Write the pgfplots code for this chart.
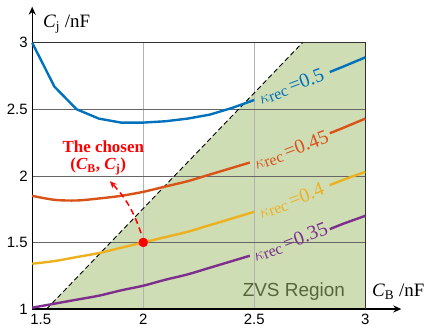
\documentclass[border=0pt]{standalone}
\usepackage{pgfplots}
\pgfplotsset{compat=1.18}
\usepackage{fontspec}
\setmainfont{Liberation Serif}
\setsansfont{Liberation Sans}
\usetikzlibrary{arrows.meta}
\definecolor{kblue}{HTML}{0072BD}
\definecolor{korange}{HTML}{D95319}
\definecolor{kyellow}{HTML}{EDB120}
\definecolor{kpurple}{HTML}{7E2F8E}
\definecolor{zvs}{HTML}{CFDDB4}
\definecolor{zvstext}{HTML}{56653A}
\newcommand{\krec}[1]{\rmfamily{\fontsize{16}{16}\selectfont$\kappa$\raisebox{-1.5bp}{rec}}\hspace{3bp}{\fontsize{20}{20}\selectfont=#1}}
\begin{document}
\begin{tikzpicture}
\begin{axis}[
  set layers,
  scale only axis,
  width=333.1bp, height=266.3bp,
  xmin=1.5, xmax=3, ymin=1, ymax=3,
  clip=false,
  axis lines=left,
  x axis line style={line width=1.4bp, -{Stealth[length=8bp,width=7bp]}, shorten >=-36bp},
  y axis line style={line width=1.4bp, -{Stealth[length=8bp,width=7bp]}, shorten >=-36bp},
  xtick={1.5,2,2.5,3},
  ytick={1,1.5,2,2.5,3},
  xticklabels={\hspace*{17bp}1.5,2,2.5,3},
  yticklabels={1,1.5,2,2.5,3},
  major tick length=0pt,
  /pgf/number format/assume math mode=true,
  tick label style={font=\sffamily\fontsize{15}{15}\selectfont},
  xticklabel style={yshift=-2bp},
  yticklabel style={xshift=-1bp},
  grid=major,
  x grid style={black!30, line width=0.7bp},
  y grid style={black!60, line width=0.7bp},
]
% ZVS region
\addplot[fill=zvs, draw=none, on layer=axis background] coordinates {(1.565,1) (2.717,3) (3,3) (3,1)} -- cycle;
% borders
\draw[black!80, line width=0.9bp] (axis cs:1.5,3) -- (axis cs:3,3) -- (axis cs:3,1);
% boundary
\addplot[black, line width=0.9bp, dash pattern=on 5bp off 3bp] coordinates {(1.565,1) (2.717,3)};
% curves
\addplot[kblue, line width=2.4bp] coordinates {(1.5,3.0)(1.6,2.67)(1.7,2.5)(1.8,2.43)(1.9,2.40)(2.0,2.40)(2.1,2.41)(2.2,2.43)(2.3,2.46)(2.4,2.51)(2.5,2.57)};
\addplot[kblue, line width=2.4bp] coordinates {(2.84,2.78)(2.9,2.82)(3.0,2.89)};
\addplot[korange, line width=2.4bp, smooth] coordinates {(1.5,1.85)(1.6,1.82)(1.7,1.815)(1.8,1.83)(1.9,1.85)(2.0,1.88)(2.1,1.92)(2.2,1.96)(2.3,2.01)(2.4,2.06)(2.48,2.10)};
\addplot[korange, line width=2.4bp] coordinates {(2.84,2.32)(2.9,2.36)(3.0,2.43)};
\addplot[kyellow, line width=2.4bp, smooth] coordinates {(1.5,1.34)(1.6,1.36)(1.7,1.39)(1.8,1.42)(1.9,1.46)(2.0,1.5)(2.1,1.54)(2.2,1.58)(2.3,1.63)(2.4,1.68)(2.5,1.73)};
\addplot[kyellow, line width=2.4bp] coordinates {(2.84,1.93)(2.9,1.97)(3.0,2.03)};
\addplot[kpurple, line width=2.4bp, smooth] coordinates {(1.5,1.01)(1.6,1.04)(1.7,1.07)(1.8,1.10)(1.9,1.14)(2.0,1.175)(2.1,1.22)(2.2,1.26)(2.3,1.31)(2.4,1.36)(2.48,1.40)};
\addplot[kpurple, line width=2.4bp] coordinates {(2.84,1.60)(2.9,1.64)(3.0,1.70)};
% chosen point
\addplot[only marks, mark=*, mark size=4.5bp, red] coordinates {(2,1.5)};
\draw[red, line width=1.5bp, dash pattern=on 6bp off 4bp, -{Stealth[length=7bp,width=6bp]}] (axis cs:1.99,1.57) to[bend right=12] (axis cs:1.85,1.96);
% labels
\node[rotate=21, text=kblue, inner sep=0pt] at (axis cs:2.667,2.67) {\krec{0.5}};
\node[rotate=21, text=korange, inner sep=0pt] at (axis cs:2.667,2.19) {\krec{0.45}};
\node[rotate=21, text=kyellow, inner sep=0pt] at (axis cs:2.667,1.81) {\krec{0.4}};
\node[rotate=21, text=kpurple, inner sep=0pt] at (axis cs:2.663,1.50) {\krec{0.35}};
\node[text=red, font=\bfseries\fontsize{17}{17}\selectfont, inner sep=0pt] at (axis cs:1.82,2.22) {The chosen};
\node[text=red, font=\bfseries\fontsize{17}{17}\selectfont, inner sep=0pt] at (axis cs:1.797,2.07) {(\textit{C}\textsubscript{B}, \textit{C}\textsubscript{j})};
\node[text=zvstext, font=\sffamily\fontsize{19}{19}\selectfont] at (axis cs:2.678,1.13) {ZVS Region};
\node[font=\fontsize{19}{19}\selectfont] at (axis cs:1.655,3.14) {\textit{C}\textsubscript{j} /nF};
\node[anchor=west, font=\fontsize{19}{19}\selectfont, inner sep=0pt] at (axis cs:3.03,1.13) {\textit{C}\textsubscript{B} /nF};
\coordinate (bbl) at (axis cs:1.355,0.8348);
\coordinate (btr) at (axis cs:3.3003,3.3207);
\end{axis}
\pgfresetboundingbox
\path[use as bounding box] (bbl) rectangle (btr);
\end{tikzpicture}
\end{document}
